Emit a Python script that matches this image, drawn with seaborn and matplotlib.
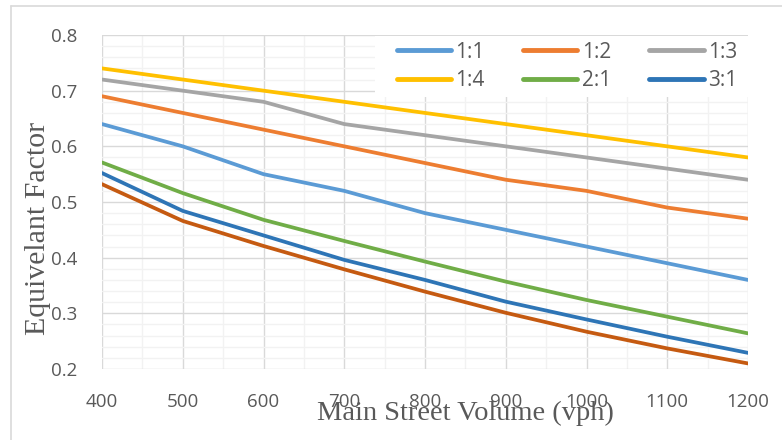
import matplotlib
matplotlib.use("Agg")
import matplotlib.pyplot as plt
import seaborn as sns
import pandas as pd
import numpy as np
from matplotlib.lines import Line2D
from matplotlib.patches import Rectangle
from matplotlib.ticker import MultipleLocator

volume = [400, 500, 600, 700, 800, 900, 1000, 1100, 1200]
s_1_1 = [0.64, 0.60, 0.55, 0.52, 0.48, 0.45, 0.42, 0.39, 0.36]
s_1_2 = [0.69, 0.66, 0.63, 0.60, 0.57, 0.54, 0.52, 0.49, 0.47]
s_1_3 = [0.72, 0.70, 0.68, 0.64, 0.62, 0.60, 0.58, 0.56, 0.54]
s_1_4 = [0.74, 0.72, 0.70, 0.68, 0.66, 0.64, 0.62, 0.60, 0.58]
s_2_1 = [0.571, 0.516, 0.468, 0.430, 0.393, 0.357, 0.324, 0.294, 0.264]
s_3_1 = [0.552, 0.484, 0.440, 0.396, 0.360, 0.321, 0.289, 0.258, 0.229]
s_extra = [0.532, 0.466, 0.421, 0.379, 0.339, 0.301, 0.267, 0.237, 0.210]

labels = ["1:1", "1:2", "1:3", "1:4", "2:1", "3:1", "4:1"]
series = [s_1_1, s_1_2, s_1_3, s_1_4, s_2_1, s_3_1, s_extra]
colors = ["#5B9BD5", "#ED7D31", "#A5A5A5", "#FFC000", "#70AD47", "#2E75B6", "#C55A11"]

rows = []
for lab, vals in zip(labels, series):
    for x, y in zip(volume, vals):
        rows.append({"Volume": x, "Factor": y, "Series": lab})
df = pd.DataFrame(rows)

sns.set_style("white")
W, H = 782, 440
fig = plt.figure(figsize=(7.82, 4.40), dpi=100)
ax = fig.add_axes([102/W, 1-369/H, (748-102)/W, (369-35)/H])

sns.lineplot(data=df, x="Volume", y="Factor", hue="Series", hue_order=labels,
             palette=dict(zip(labels, colors)), linewidth=2.7, ax=ax, legend=False,
             sort=False)

ax.set_xlim(400, 1200)
ax.set_ylim(0.2, 0.8)
ax.xaxis.set_major_locator(MultipleLocator(100))
ax.xaxis.set_minor_locator(MultipleLocator(50))
ax.yaxis.set_major_locator(MultipleLocator(0.1))
ax.yaxis.set_minor_locator(MultipleLocator(0.02))
ax.grid(which="major", color="#D9D9D9", linewidth=1.0)
ax.grid(which="minor", color="#F2F2F2", linewidth=1.0)
ax.set_axisbelow(True)
for sp in ax.spines.values():
    sp.set_visible(False)

tickfont = "Open Sans"
ax.tick_params(axis="both", which="both", length=0, colors="#595959", labelsize=13.5)
ax.tick_params(axis="x", pad=17)
ax.tick_params(axis="y", pad=17.5)
ax.set_xticks(volume)
ax.set_xticklabels([str(v) for v in volume], family=tickfont)
yt = [0.2, 0.3, 0.4, 0.5, 0.6, 0.7, 0.8]
ax.set_yticks(yt)
ax.set_yticklabels([f"{v:.1f}" for v in yt], family=tickfont)
ax.set_xlabel("")
ax.set_ylabel("")

fig.text(465/W, 1-420/H, "Main Street Volume (vph)", family="Liberation Serif",
         fontsize=20.5, color="#595959", ha="center", va="baseline")
fig.text(38/W, 1-228/H, "Equivelant Factor", family="Liberation Serif",
         fontsize=21.5, color="#595959", ha="center", va="center", rotation=90)

# legend background
ax.add_patch(Rectangle(((375-102)/646, 1-(97-35)/334), 1-(375-102)/646, (97-36)/334,
                       transform=ax.transAxes, facecolor="white", edgecolor="none",
                       zorder=5))

handles = [Line2D([0], [0], color=c, linewidth=3.5, solid_capstyle="round") for c in colors[:6]]
order = [0, 3, 1, 4, 2, 5]
leg = ax.legend([handles[i] for i in order], [labels[i] for i in order], ncol=3,
                loc="upper left", bbox_to_anchor=((397-102)/646, 0.98), borderaxespad=0.0,
                frameon=False, handlelength=2.6, handletextpad=0.2,
                columnspacing=1.85, labelspacing=0.35, borderpad=0.0,
                prop={"family": tickfont, "size": 15})
for t in leg.get_texts():
    t.set_color("#595959")
leg.set_zorder(10)

# chart area border
fig.add_artist(Line2D([11/W, 1.0], [1-6/H, 1-6/H], transform=fig.transFigure,
                      color="#D9D9D9", linewidth=1.2))
fig.add_artist(Line2D([11/W, 11/W], [0.0, 1-6/H], transform=fig.transFigure,
                      color="#D9D9D9", linewidth=1.2))

fig.savefig("out.png", dpi=100)
